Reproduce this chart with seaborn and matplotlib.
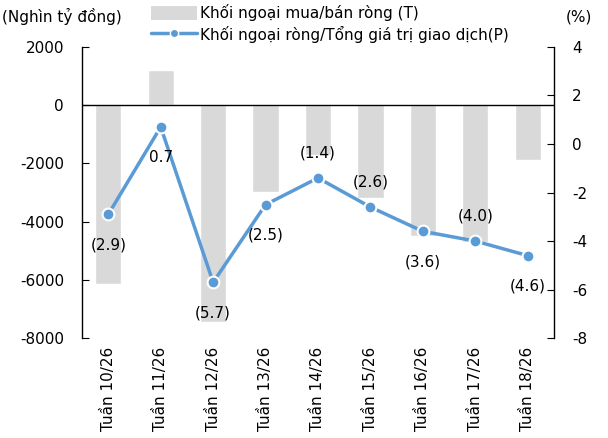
import numpy as np
import pandas as pd
import matplotlib
matplotlib.use('Agg')
import matplotlib.pyplot as plt
import seaborn as sns
from matplotlib.patches import Patch
from matplotlib.lines import Line2D

weeks = ['Tuần 10/26', 'Tuần 11/26', 'Tuần 12/26', 'Tuần 13/26', 'Tuần 14/26',
         'Tuần 15/26', 'Tuần 16/26', 'Tuần 17/26', 'Tuần 18/26']
net_value = [-6140, 1200, -7450, -2990, -1700, -3180, -4500, -4700, -1870]
net_ratio = [-2.9, 0.7, -5.7, -2.5, -1.4, -2.6, -3.6, -4.0, -4.6]
label_pos = ['below', 'below', 'below', 'below', 'above', 'above', 'below', 'above', 'below']

sns.set_style('white')
plt.rcParams['font.family'] = ['DejaVu Sans']
plt.rcParams['font.size'] = 11
plt.rcParams['axes.unicode_minus'] = False
plt.rcParams['text.color'] = 'black'
plt.rcParams['xtick.color'] = 'black'
plt.rcParams['ytick.color'] = 'black'

bar_color = '#D9D9D9'
line_color = '#5B9BD5'

df = pd.DataFrame({'week': weeks, 'value': net_value, 'ratio': net_ratio})

fig = plt.figure(figsize=(6.08, 4.38), dpi=100)
ax = fig.add_axes([0.135, 0.228, 0.776, 0.665])

sns.barplot(data=df, x='week', y='value', color=bar_color, width=0.5,
            saturation=1, ax=ax)
ax.axhline(0, color='black', lw=1, zorder=1)
ax.set_ylim(-8000, 2000)
ax.set_yticks(np.arange(-8000, 2001, 2000))
ax.set_xlabel('')
ax.set_ylabel('')
ax.tick_params(axis='x', rotation=90, length=0, pad=6, labelsize=11)
ax.tick_params(axis='y', direction='in', length=5, pad=13, labelsize=11, left=True)
for s in ['top', 'bottom', 'right']:
    ax.spines[s].set_visible(False)
ax.spines['left'].set_color('black')
ax.spines['left'].set_linewidth(1)

ax2 = ax.twinx()
xpos = np.arange(len(weeks))
sns.lineplot(x=xpos, y=net_ratio, ax=ax2, color=line_color, lw=2.5,
             marker='o', markersize=8.5, markerfacecolor=line_color,
             markeredgecolor='white', markeredgewidth=1.5)
ax2.set_ylim(-8, 4)
ax2.set_yticks(np.arange(-8, 5, 2))
ax2.tick_params(axis='y', direction='in', length=5, pad=13, labelsize=11, right=True)
for s in ['top', 'bottom', 'left']:
    ax2.spines[s].set_visible(False)
ax2.spines['right'].set_color('black')
ax2.spines['right'].set_linewidth(1)
ax.set_xlim(-0.5, len(weeks) - 0.5)

for x, v, p in zip(xpos, net_ratio, label_pos):
    txt = f'({abs(v):.1f})' if v < 0 else f'{v:.1f}'
    dy = -22 if p == 'below' else 18
    ax2.annotate(txt, (x, v), xytext=(0, dy), textcoords='offset points',
                 ha='center', va='center', fontsize=11)

fig.text(0.003, 0.962, '(Nghìn tỷ đồng)', fontsize=11, va='center')
fig.text(0.93, 0.962, '(%)', fontsize=11, va='center')

handles = [Patch(facecolor=bar_color, edgecolor='none'),
           Line2D([0], [0], color=line_color, lw=2.5, marker='o', markersize=6,
                  markerfacecolor=line_color, markeredgecolor='white')]
labels = ['Khối ngoại mua/bán ròng (T)', 'Khối ngoại ròng/Tổng giá trị giao dịch(P)']
fig.legend(handles, labels, loc='upper left', bbox_to_anchor=(0.238, 1.005),
           frameon=False, fontsize=11, handlelength=3.0, handleheight=1.0,
           labelspacing=0.3, handletextpad=0.25, borderaxespad=0)

plt.savefig('out.png', dpi=100)
